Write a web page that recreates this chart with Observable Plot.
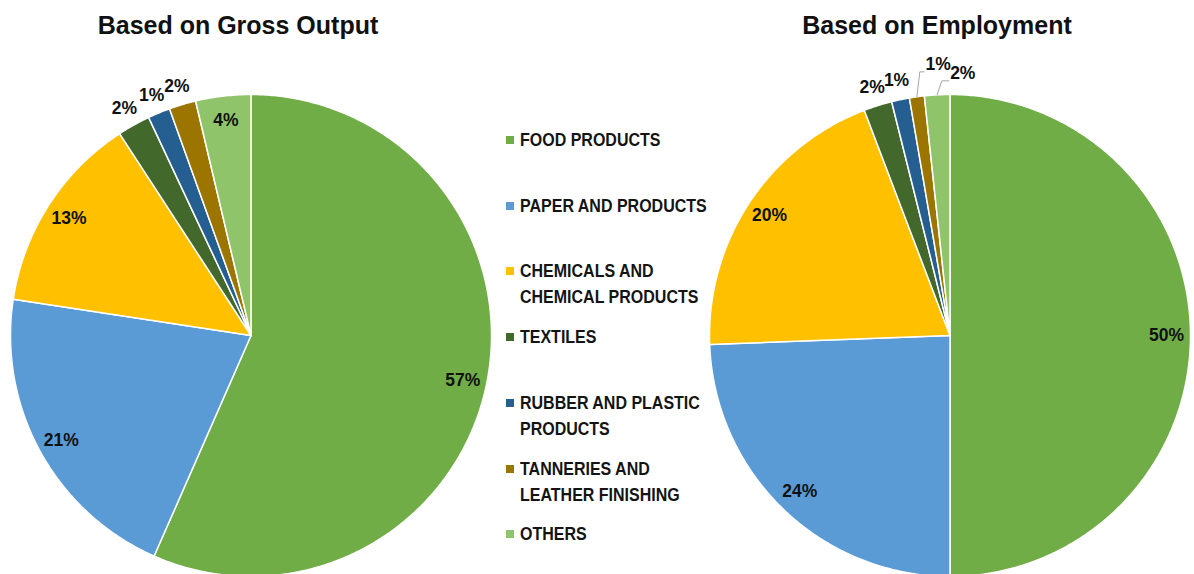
<!DOCTYPE html>
<html><head><meta charset="utf-8">
<script src="https://cdn.jsdelivr.net/npm/d3@7"></script>
<script src="https://cdn.jsdelivr.net/npm/@observablehq/plot@0.6"></script>
<style>
body{margin:0;background:#fff;font-family:"Liberation Sans",Arial,Helvetica,sans-serif}
#wrap{position:relative;width:1194px;height:574px;overflow:hidden;background:#fff}
#wrap svg{position:absolute;left:0;top:0}
.lg{position:absolute;left:506px;font-weight:bold;font-size:16px;line-height:24px;color:#141414;white-space:nowrap}
.lg .sw{position:absolute;left:0;top:8px;width:8px;height:8px}
.lg .tx{position:absolute;left:14px;top:0;transform:scaleY(1.12);transform-origin:0 12px}
</style></head><body><div id="wrap"></div>
<script>
// ---- data ----
const categories = ["FOOD PRODUCTS","PAPER AND PRODUCTS","CHEMICALS AND CHEMICAL PRODUCTS","TEXTILES","RUBBER AND PLASTIC PRODUCTS","TANNERIES AND LEATHER FINISHING","OTHERS"];
const legendLines = [["FOOD PRODUCTS"],["PAPER AND PRODUCTS"],["CHEMICALS AND","CHEMICAL PRODUCTS"],["TEXTILES"],["RUBBER AND PLASTIC","PRODUCTS"],["TANNERIES AND","LEATHER FINISHING"],["OTHERS"]];
const charts = ["Based on Gross Output","Based on Employment"];
const grossOutput = [56.6, 20.8, 13.4, 2.2, 1.5, 1.8, 3.7];
const employment  = [50.0, 24.4, 19.8, 1.9, 1.2, 1.0, 1.7];
const colors = ["#70AD47","#5B9BD5","#FFC000","#43682B","#255E91","#9C7400","#90C46A"];

// ---- layout config ----
const leaderLabels = {
  "Based on Employment": {
    "TANNERIES AND LEATHER FINISHING": {angle: 357.5, radius: 1.125},
    "OTHERS": {angle: 2.8, radius: 1.088}
  }
};
const seriesByChart = {"Based on Gross Output": grossOutput, "Based on Employment": employment};

const rad = d => d * Math.PI / 180;
const slicePts = [], labels = [], leaders = [];
for (const chart of charts) {
  const vals = seriesByChart[chart];
  const total = d3.sum(vals);
  let cum = 0;
  vals.forEach((v, i) => {
    const a0 = cum / total * 360, a1 = (cum + v) / total * 360;
    cum += v;
    const key = chart + "|" + categories[i];
    slicePts.push({chart, key, cat: categories[i], x: 0, y: 0});
    const n = Math.max(2, Math.ceil((a1 - a0) / 0.5));
    for (let k = 0; k <= n; k++) {
      const a = rad(a0 + (a1 - a0) * k / n);
      slicePts.push({chart, key, cat: categories[i], x: Math.sin(a), y: Math.cos(a)});
    }
    slicePts.push({chart, key, cat: categories[i], x: 0, y: 0});
    const mid = (a0 + a1) / 2;
    const pct = Math.round(v / total * 100) + "%";
    const ov = leaderLabels[chart] && leaderLabels[chart][categories[i]];
    if (ov) {
      const lx = Math.sin(rad(ov.angle)) * ov.radius, ly = Math.cos(rad(ov.angle)) * ov.radius;
      labels.push({chart, x: lx, y: ly, text: pct});
      const sx = Math.sin(rad(mid)), sy = Math.cos(rad(mid));
      const ex = lx - 0.058, ey = ly - 0.03;
      leaders.push({chart, key, x: sx, y: sy});
      leaders.push({chart, key, x: sx + 0.4 * (ex - sx), y: ey});
      leaders.push({chart, key, x: ex, y: ey});
    } else {
      const r = v / total * 100 >= 3 ? 0.9 : 1.08;
      labels.push({chart, x: Math.sin(rad(mid)) * r, y: Math.cos(rad(mid)) * r, text: pct});
    }
  });
}

const W = 1194, H = 574, R = 241;
const plot = Plot.plot({
  width: W, height: H,
  marginLeft: 9, marginRight: 3, marginTop: 94, marginBottom: 0,
  fx: {domain: charts, paddingInner: 0.3114, paddingOuter: 0, axis: null},
  x: {domain: [-1, 1], axis: null},
  y: {domain: [1 - (H - 94) / R, 1], axis: null},
  color: {domain: categories, range: colors},
  style: {fontFamily: '"Liberation Sans", Arial, sans-serif', background: "transparent"},
  marks: [
    Plot.line(slicePts, {fx: "chart", x: "x", y: "y", z: "key", fill: "cat", stroke: "white", strokeWidth: 1.5, curve: "linear"}),
    Plot.line(leaders, {fx: "chart", x: "x", y: "y", z: "key", stroke: "#A6A6A6", strokeWidth: 1}),
    Plot.text(labels, {fx: "chart", x: "x", y: "y", text: "text", fontSize: 17.5, fontWeight: "bold", fill: "#111"}),
    Plot.text(charts, {fx: d => d, text: d => d, frameAnchor: "top", lineAnchor: "middle", dy: -69, dx: -13, fontSize: 25, fontWeight: "bold", fill: "#111"})
  ]
});
const wrap = document.getElementById("wrap");
wrap.appendChild(plot);

// legend
legendLines.forEach((lines, i) => {
  const div = document.createElement("div");
  div.className = "lg";
  div.style.top = (128 + i * 65.7) + "px";
  const sw = document.createElement("div");
  sw.className = "sw"; sw.style.background = colors[i];
  const tx = document.createElement("div");
  tx.className = "tx"; tx.innerHTML = lines.join("<br>");
  div.appendChild(sw); div.appendChild(tx);
  wrap.appendChild(div);
});
</script></body></html>
